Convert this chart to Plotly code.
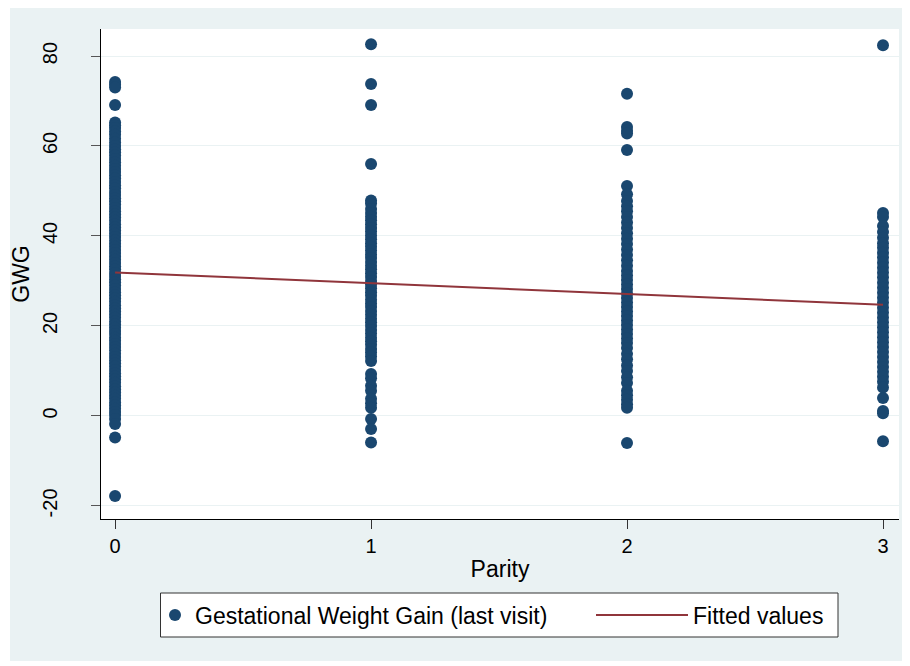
import plotly.graph_objects as go

# ---- data ----
parity_levels = [0, 1, 2, 3]

gwg_parity0 = [74.2, 73.6, 73.0, 69.1, 65.2, 64.6, 64.0, 63.2, 62.5, 61.6, 60.8, 60.0,
               59.3, 58.6, 57.9, 57.1, 56.4, 55.6, 54.9, 54.2, 53.5, 52.8, 52.0, 51.3,
               50.6, 49.8, 49.1, 48.4, 47.7, 47.0, 46.2, 45.5, 44.8, 44.1, 43.4, 42.6,
               41.9, 41.2, 40.5, 39.8, 39.0, 38.3, 37.6, 36.9, 36.2, 35.4, 34.7, 34.0,
               33.3, 32.6, 31.8, 31.1, 30.4, 29.7, 29.0, 28.2, 27.5, 26.8, 26.1, 25.4,
               24.6, 23.9, 23.2, 22.5, 21.8, 21.0, 20.3, 19.6, 18.9, 18.2, 17.4, 16.7,
               16.0, 15.3, 14.6, 13.8, 13.1, 12.4, 11.7, 11.0, 10.2, 9.5, 8.8, 8.1,
               7.4, 6.6, 5.9, 5.2, 4.5, 3.8, 3.0, 2.3, 1.6, 0.9, 0.2, -0.7, -1.8,
               -4.8, -17.8]
gwg_parity1 = [82.6, 73.8, 69.1, 56.0, 47.9, 47.2, 46.0, 45.1, 44.3, 43.5, 42.6, 41.8,
               41.0, 40.1, 39.3, 38.4, 37.6, 36.8, 35.9, 35.1, 34.2, 33.4, 32.6, 31.7,
               30.9, 30.0, 29.2, 28.4, 27.5, 26.7, 25.8, 25.0, 24.2, 23.3, 22.5, 21.6,
               20.8, 20.0, 19.1, 18.3, 17.4, 16.6, 15.8, 14.9, 14.1, 13.2, 12.2, 9.3,
               8.4, 6.7, 5.6, 3.8, 2.8, 1.8, -0.7, -2.9, -5.9]
gwg_parity2 = [71.6, 64.2, 63.4, 62.8, 59.1, 51.1, 49.3, 47.8, 46.6, 45.5, 44.2, 43.0,
               41.8, 40.6, 39.4, 38.2, 37.0, 35.8, 34.6, 33.4, 32.2, 31.2, 30.2, 29.2,
               28.2, 27.2, 26.2, 25.2, 24.2, 23.2, 22.2, 21.2, 20.2, 19.2, 18.2, 17.2,
               16.2, 15.1, 13.8, 12.6, 11.2, 10.0, 8.6, 7.3, 5.6, 4.6, 3.6, 2.6, 1.8,
               -6.0]
gwg_parity3 = [82.4, 45.1, 44.2, 42.2, 40.9, 39.6, 38.4, 37.4, 36.3, 35.2, 34.1, 33.0,
               31.9, 30.8, 29.6, 28.5, 27.4, 26.3, 25.2, 24.1, 23.0, 21.9, 20.8, 19.7,
               18.6, 17.5, 16.4, 15.3, 14.2, 13.1, 12.0, 10.9, 9.8, 8.7, 7.6, 6.3,
               4.0, 1.1, 0.6, -5.6]

fitted_x = [0, 1, 2, 3]
fitted_y = [31.9, 29.5, 27.1, 24.7]

x_ticks = [0, 1, 2, 3]
y_ticks = [-20, 0, 20, 40, 60, 80]
y_tick_labels = ["-20", "0", "20", "40", "60", "80"]

# ---- build ----
groups = [gwg_parity0, gwg_parity1, gwg_parity2, gwg_parity3]
xs, ys = [], []
for p, vals in zip(parity_levels, groups):
    xs += [p] * len(vals)
    ys += vals

NAVY = "#1a476f"
MAROON = "#90353b"
BG = "#EAF2F3"
FONT = "Liberation Sans, Arial, sans-serif"

fig = go.Figure()
fig.add_trace(go.Scatter(
    x=xs, y=ys, mode="markers", name="Gestational Weight Gain (last visit)",
    marker=dict(color=NAVY, size=12, line=dict(width=0)), legend="legend"))
fig.add_trace(go.Scatter(
    x=fitted_x, y=fitted_y, mode="lines", name="Fitted values",
    line=dict(color=MAROON, width=2), legend="legend2"))

# the page body adds an 8px offset; layout is given in window pixels
OFF = 8
Lw, Rw, Tw, Bw = 101, 899, 29, 519          # plot area in window pixels
W, H = 910 - OFF, 666 - OFF                  # figure size
pw, ph = Rw - Lw, Bw - Tw


def px(xw):
    return (xw - Lw) / pw


def py(yw):
    return (Bw - yw) / ph


fig.update_layout(
    width=W, height=H,
    margin=dict(l=Lw - OFF, r=W - (Rw - OFF), t=Tw - OFF, b=H - (Bw - OFF),
                pad=0, autoexpand=False),
    paper_bgcolor=BG, plot_bgcolor="white",
    font=dict(family=FONT, size=20, color="black"),
    showlegend=True,
    legend=dict(x=px(155), y=py(615), xanchor="left", yanchor="middle",
                bgcolor="rgba(0,0,0,0)", borderwidth=0,
                font=dict(size=23), itemwidth=30),
    legend2=dict(x=px(591), y=py(615), xanchor="left", yanchor="middle",
                 bgcolor="rgba(0,0,0,0)", borderwidth=0,
                 font=dict(size=23), itemwidth=92),
    shapes=[
        # white outer borders
        dict(type="rect", xref="paper", yref="paper", x0=px(0), x1=px(10),
             y0=py(700), y1=py(0), fillcolor="white", line=dict(width=0), layer="below"),
        dict(type="rect", xref="paper", yref="paper", x0=px(0), x1=px(950),
             y0=py(700), y1=py(661), fillcolor="white", line=dict(width=0), layer="below"),
        # legend frame
        dict(type="rect", xref="paper", yref="paper", x0=px(160.5), x1=px(838),
             y0=py(637), y1=py(593), fillcolor="white",
             line=dict(color="#333333", width=1), layer="below"),
    ],
)

fig.update_xaxes(
    range=[-0.055, 3.0625], tickmode="array", tickvals=x_ticks,
    ticks="outside", ticklen=9, tickcolor="#333333", tickwidth=1,
    showline=True, linecolor="black", linewidth=1, mirror=False,
    showgrid=False, zeroline=False, ticklabelstandoff=0, automargin=False,
    tickfont=dict(size=20),
    title=dict(text="Parity", font=dict(size=23), standoff=4),
)
fig.update_yaxes(
    range=[-22.9, 86], tickmode="array", tickvals=y_ticks, ticktext=y_tick_labels,
    ticks="outside", ticklen=9, tickcolor="#555555", tickwidth=1,
    showline=True, linecolor="black", linewidth=1, mirror=False,
    showgrid=True, gridcolor=BG, gridwidth=1, zeroline=False, automargin=False,
    tickangle=-90, ticklabelstandoff=26, tickfont=dict(size=20),
    title=dict(text="GWG", font=dict(size=23), standoff=6),
)

fig.write_html("out.html")
